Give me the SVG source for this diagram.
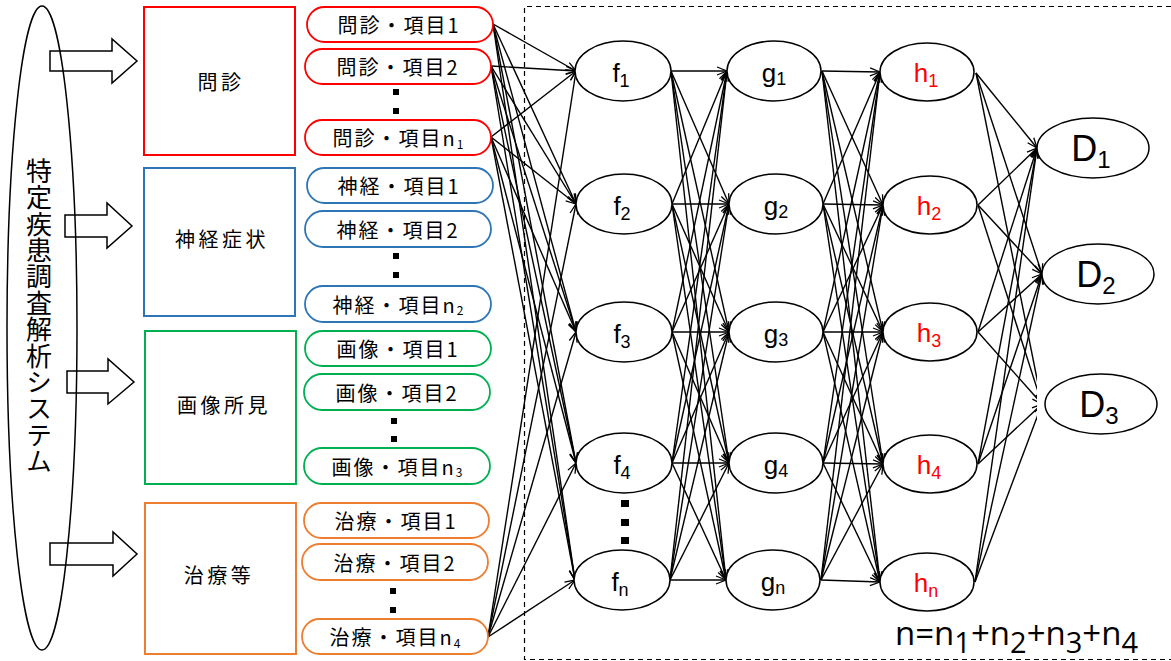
<svg xmlns="http://www.w3.org/2000/svg" width="1171" height="661" viewBox="0 0 1171 661">
<style>
.pill{fill:#fff;stroke-width:1.8}
.box{fill:#fff;stroke-width:2}
.red{stroke:#FF0000}.blue{stroke:#2E75B6}.green{stroke:#00B050}.orange{stroke:#ED7D31}
.pt{font-family:"Noto Sans CJK JP","Noto Sans",sans-serif;font-size:20px;letter-spacing:2px;text-anchor:middle;fill:#000}
.bt{font-family:"Noto Sans CJK JP",sans-serif;font-size:20px;letter-spacing:3.5px;text-anchor:middle;fill:#000}
.node{fill:#fff;stroke:#000;stroke-width:1.5}
.nt{font-family:"Liberation Sans",Arial,sans-serif;font-size:26px;text-anchor:middle;fill:#000}
.red-t{fill:#FF0000}
.dt{font-family:"Liberation Sans",Arial,sans-serif;font-size:36px;text-anchor:middle;fill:#000}
.c line{stroke:#000;stroke-width:1.4;marker-end:url(#ah)}
.arrow{fill:none;stroke:#000;stroke-width:1.5}
.dot{fill:#000}
</style>
<defs>
<marker id="ah" markerWidth="12" markerHeight="10" refX="11" refY="5" orient="auto" markerUnits="userSpaceOnUse">
<path d="M1,1 L11,5 L1,9" fill="none" stroke="#000" stroke-width="1.3"/>
</marker>
<clipPath id="clipD3"><rect x="0" y="0" width="1037" height="661"/></clipPath>
</defs>
<rect width="1171" height="661" fill="#fff"/>

<!-- dashed frame -->
<path d="M1171,6.5 H524.5 V659.5 H1171" fill="none" stroke="#000" stroke-width="1.2" stroke-dasharray="5,4"/>

<!-- system ellipse -->
<g id="system">
<polygon class="arrow" points="50,51 112,51 112,39 137,61 112,83 112,71 50,71"/>
<polygon class="arrow" points="65,215 107,215 107,203 132,226 107,248 107,237 65,237"/>
<polygon class="arrow" points="67,371 108,371 108,359 134,382 108,404 108,393 67,393"/>
<polygon class="arrow" points="50,543 113,543 113,532 137,554 113,576 113,565 50,565"/>
<ellipse cx="42" cy="328" rx="35" ry="322" fill="none" stroke="#000" stroke-width="1.5"/>
<text x="39" y="158" style="writing-mode:vertical-rl;font-family:'Noto Sans CJK JP',sans-serif;font-size:26px;letter-spacing:0.4px" fill="#000">特定疾患調査解析システム</text>
</g>

<!-- category boxes -->
<g id="box-monshin"><rect class="box red" x="144" y="7" width="151" height="148"/><text class="bt" x="221" y="81" dominant-baseline="central">問診</text></g>
<g id="box-shinkei"><rect class="box blue" x="144" y="168" width="151" height="148"/><text class="bt" x="222" y="238" dominant-baseline="central">神経症状</text></g>
<g id="box-gazou"><rect class="box green" x="145" y="331" width="151" height="153"/><text class="bt" x="224" y="404" dominant-baseline="central">画像所見</text></g>
<g id="box-chiryou"><rect class="box orange" x="145" y="503" width="151" height="151"/><text class="bt" x="219" y="574" dominant-baseline="central">治療等</text></g>

<!-- connectors -->
<g id="connectors" class="c">
<!-- pills to f -->
<line x1="493" y1="24" x2="576" y2="71"/><line x1="493" y1="24" x2="576" y2="204"/><line x1="493" y1="24" x2="576" y2="332"/><line x1="493" y1="24" x2="576" y2="463"/><line x1="493" y1="24" x2="575" y2="580"/>
<line x1="491" y1="66" x2="576" y2="71"/><line x1="491" y1="66" x2="576" y2="204"/><line x1="491" y1="66" x2="576" y2="332"/><line x1="491" y1="66" x2="576" y2="463"/><line x1="491" y1="66" x2="575" y2="580"/>
<line x1="491" y1="137" x2="576" y2="71"/><line x1="491" y1="137" x2="576" y2="204"/><line x1="491" y1="137" x2="576" y2="332"/><line x1="491" y1="137" x2="576" y2="463"/><line x1="491" y1="137" x2="575" y2="580"/>
<line x1="488" y1="637" x2="576" y2="71"/><line x1="488" y1="637" x2="576" y2="204"/><line x1="488" y1="637" x2="576" y2="332"/><line x1="488" y1="637" x2="576" y2="463"/><line x1="488" y1="637" x2="575" y2="580"/>
<!-- f to g -->
<line x1="671" y1="71" x2="727" y2="71"/><line x1="671" y1="71" x2="729" y2="204"/><line x1="671" y1="71" x2="729" y2="332"/><line x1="671" y1="71" x2="729" y2="463"/><line x1="671" y1="71" x2="726" y2="580"/>
<line x1="672" y1="204" x2="727" y2="71"/><line x1="672" y1="204" x2="729" y2="204"/><line x1="672" y1="204" x2="729" y2="332"/><line x1="672" y1="204" x2="729" y2="463"/><line x1="672" y1="204" x2="726" y2="580"/>
<line x1="672" y1="332" x2="727" y2="71"/><line x1="672" y1="332" x2="729" y2="204"/><line x1="672" y1="332" x2="729" y2="332"/><line x1="672" y1="332" x2="729" y2="463"/><line x1="672" y1="332" x2="726" y2="580"/>
<line x1="672" y1="463" x2="727" y2="71"/><line x1="672" y1="463" x2="729" y2="204"/><line x1="672" y1="463" x2="729" y2="332"/><line x1="672" y1="463" x2="729" y2="463"/><line x1="672" y1="463" x2="726" y2="580"/>
<line x1="670" y1="580" x2="727" y2="71"/><line x1="670" y1="580" x2="729" y2="204"/><line x1="670" y1="580" x2="729" y2="332"/><line x1="670" y1="580" x2="729" y2="463"/><line x1="670" y1="580" x2="726" y2="580"/>
<!-- g to h -->
<line x1="822" y1="71" x2="880" y2="72"/><line x1="822" y1="71" x2="883" y2="205"/><line x1="822" y1="71" x2="883" y2="332"/><line x1="822" y1="71" x2="883" y2="464"/><line x1="822" y1="71" x2="880" y2="582"/>
<line x1="823" y1="204" x2="880" y2="72"/><line x1="823" y1="204" x2="883" y2="205"/><line x1="823" y1="204" x2="883" y2="332"/><line x1="823" y1="204" x2="883" y2="464"/><line x1="823" y1="204" x2="880" y2="582"/>
<line x1="823" y1="332" x2="880" y2="72"/><line x1="823" y1="332" x2="883" y2="205"/><line x1="823" y1="332" x2="883" y2="332"/><line x1="823" y1="332" x2="883" y2="464"/><line x1="823" y1="332" x2="880" y2="582"/>
<line x1="823" y1="463" x2="880" y2="72"/><line x1="823" y1="463" x2="883" y2="205"/><line x1="823" y1="463" x2="883" y2="332"/><line x1="823" y1="463" x2="883" y2="464"/><line x1="823" y1="463" x2="880" y2="582"/>
<line x1="821" y1="580" x2="880" y2="72"/><line x1="821" y1="580" x2="883" y2="205"/><line x1="821" y1="580" x2="883" y2="332"/><line x1="821" y1="580" x2="883" y2="464"/><line x1="821" y1="580" x2="880" y2="582"/>
<!-- h to D -->
<line x1="976" y1="73" x2="1037" y2="148"/><line x1="976" y1="73" x2="1042" y2="274"/>
<line x1="978" y1="205" x2="1037" y2="148"/><line x1="978" y1="205" x2="1042" y2="274"/>
<line x1="978" y1="332" x2="1037" y2="148"/><line x1="978" y1="332" x2="1042" y2="274"/>
<line x1="978" y1="464" x2="1037" y2="148"/><line x1="978" y1="464" x2="1042" y2="274"/>
<line x1="975" y1="582" x2="1037" y2="148"/><line x1="975" y1="582" x2="1042" y2="274"/>
<g clip-path="url(#clipD3)">
<line x1="976" y1="73" x2="1042" y2="404"/><line x1="978" y1="205" x2="1042" y2="404"/><line x1="978" y1="332" x2="1042" y2="404"/><line x1="978" y1="464" x2="1042" y2="404"/><line x1="975" y1="582" x2="1042" y2="404"/>
</g>
</g>

<!-- item pills -->
<g id="p-m1"><rect class="pill red" x="307" y="7" width="186" height="35" rx="17.5"/><text class="pt" x="399" y="24.5" dominant-baseline="central">問診・項目1</text></g>
<g id="p-m2"><rect class="pill red" x="305" y="49" width="186" height="35" rx="17.5"/><text class="pt" x="398" y="66.5" dominant-baseline="central">問診・項目2</text></g>
<g id="p-mn"><rect class="pill red" x="305" y="120" width="186" height="35" rx="17.5"/><text class="pt" x="398" y="137.5" dominant-baseline="central">問診・項目n<tspan font-size="12" dy="5" letter-spacing="0">1</tspan></text></g>
<g id="p-s1"><rect class="pill blue" x="307" y="168" width="186" height="35" rx="17.5"/><text class="pt" x="399" y="185.5" dominant-baseline="central">神経・項目1</text></g>
<g id="p-s2"><rect class="pill blue" x="305" y="211" width="186" height="36" rx="18"/><text class="pt" x="398" y="229" dominant-baseline="central">神経・項目2</text></g>
<g id="p-sn"><rect class="pill blue" x="305" y="286" width="186" height="36" rx="18"/><text class="pt" x="398" y="304" dominant-baseline="central">神経・項目n<tspan font-size="12" dy="5" letter-spacing="0">2</tspan></text></g>
<g id="p-g1"><rect class="pill green" x="305" y="331" width="186" height="35" rx="17.5"/><text class="pt" x="398" y="348.5" dominant-baseline="central">画像・項目1</text></g>
<g id="p-g2"><rect class="pill green" x="304" y="374" width="186" height="36" rx="18"/><text class="pt" x="397" y="392" dominant-baseline="central">画像・項目2</text></g>
<g id="p-gn"><rect class="pill green" x="304" y="448" width="186" height="36" rx="18"/><text class="pt" x="397" y="466" dominant-baseline="central">画像・項目n<tspan font-size="12" dy="5" letter-spacing="0">3</tspan></text></g>
<g id="p-c1"><rect class="pill orange" x="304" y="503" width="185" height="35" rx="17.5"/><text class="pt" x="396" y="520.5" dominant-baseline="central">治療・項目1</text></g>
<g id="p-c2"><rect class="pill orange" x="302" y="544" width="186" height="36" rx="18"/><text class="pt" x="395" y="562" dominant-baseline="central">治療・項目2</text></g>
<g id="p-cn"><rect class="pill orange" x="302" y="619" width="186" height="35" rx="17.5"/><text class="pt" x="395" y="636.5" dominant-baseline="central">治療・項目n<tspan font-size="12" dy="5" letter-spacing="0">4</tspan></text></g>

<!-- vertical ellipsis dots -->
<g id="dots">
<rect class="dot" x="393" y="89" width="6" height="6"/><rect class="dot" x="393" y="108" width="6" height="6"/>
<rect class="dot" x="393" y="253" width="6" height="6"/><rect class="dot" x="393" y="272" width="6" height="6"/>
<rect class="dot" x="391" y="418" width="6" height="6"/><rect class="dot" x="391" y="436" width="6" height="6"/>
<rect class="dot" x="390" y="588" width="6" height="6"/><rect class="dot" x="390" y="607" width="6" height="6"/>
<rect class="dot" x="621" y="500" width="8" height="7"/><rect class="dot" x="621" y="519" width="8" height="7"/><rect class="dot" x="621" y="537" width="8" height="7"/>
</g>

<!-- f layer -->
<g id="f1"><ellipse class="node" cx="623" cy="71" rx="48" ry="30"/><text class="nt" x="621" y="82">f<tspan font-size="18" dy="5">1</tspan></text></g>
<g id="f2"><ellipse class="node" cx="624" cy="204" rx="48" ry="30"/><text class="nt" x="622" y="215">f<tspan font-size="18" dy="5">2</tspan></text></g>
<g id="f3"><ellipse class="node" cx="624" cy="332" rx="48" ry="30"/><text class="nt" x="622" y="343">f<tspan font-size="18" dy="5">3</tspan></text></g>
<g id="f4"><ellipse class="node" cx="624" cy="463" rx="48" ry="30"/><text class="nt" x="622" y="474">f<tspan font-size="18" dy="5">4</tspan></text></g>
<g id="fn"><ellipse class="node" cx="622" cy="580" rx="48" ry="30"/><text class="nt" x="620" y="591">f<tspan font-size="18" dy="5">n</tspan></text></g>

<!-- g layer -->
<g id="g1"><ellipse class="node" cx="774" cy="71" rx="47" ry="30"/><text class="nt" x="774" y="82">g<tspan font-size="18" dy="3">1</tspan></text></g>
<g id="g2"><ellipse class="node" cx="776" cy="204" rx="47" ry="30"/><text class="nt" x="776" y="215">g<tspan font-size="18" dy="3">2</tspan></text></g>
<g id="g3"><ellipse class="node" cx="776" cy="332" rx="47" ry="30"/><text class="nt" x="776" y="343">g<tspan font-size="18" dy="3">3</tspan></text></g>
<g id="g4"><ellipse class="node" cx="776" cy="463" rx="47" ry="30"/><text class="nt" x="776" y="474">g<tspan font-size="18" dy="3">4</tspan></text></g>
<g id="gn"><ellipse class="node" cx="773" cy="580" rx="47" ry="30"/><text class="nt" x="773" y="591">g<tspan font-size="18" dy="3">n</tspan></text></g>

<!-- h layer -->
<g id="h1"><ellipse class="node" cx="927" cy="72" rx="47" ry="29"/><text class="nt red-t" x="926" y="82">h<tspan font-size="18" dy="5">1</tspan></text></g>
<g id="h2"><ellipse class="node" cx="930" cy="205" rx="47" ry="29"/><text class="nt red-t" x="929" y="215">h<tspan font-size="18" dy="5">2</tspan></text></g>
<g id="h3"><ellipse class="node" cx="930" cy="332" rx="47" ry="29"/><text class="nt red-t" x="929" y="342">h<tspan font-size="18" dy="5">3</tspan></text></g>
<g id="h4"><ellipse class="node" cx="930" cy="464" rx="47" ry="29"/><text class="nt red-t" x="929" y="474">h<tspan font-size="18" dy="5">4</tspan></text></g>
<g id="hn"><ellipse class="node" cx="927" cy="582" rx="47" ry="29"/><text class="nt red-t" x="926" y="592">h<tspan font-size="18" dy="5">n</tspan></text></g>

<!-- D layer -->
<g id="D1"><ellipse class="node" cx="1093" cy="148" rx="56" ry="30"/><text class="dt" x="1091" y="161">D<tspan font-size="24" dy="7">1</tspan></text></g>
<g id="D2"><ellipse class="node" cx="1098" cy="274" rx="56" ry="30"/><text class="dt" x="1096" y="287">D<tspan font-size="24" dy="7">2</tspan></text></g>
<g id="D3"><ellipse class="node" cx="1101" cy="404" rx="56" ry="30"/><text class="dt" x="1099" y="417">D<tspan font-size="24" dy="7">3</tspan></text></g>

<!-- formula -->
<text x="895" y="645" font-family="'Open Sans','Noto Sans',sans-serif" font-size="33" fill="#000">n=n<tspan font-size="29" dy="8">1</tspan><tspan dy="-8">+n</tspan><tspan font-size="29" dy="8">2</tspan><tspan dy="-8">+n</tspan><tspan font-size="29" dy="8">3</tspan><tspan dy="-8">+n</tspan><tspan font-size="29" dy="8">4</tspan></text>
</svg>
